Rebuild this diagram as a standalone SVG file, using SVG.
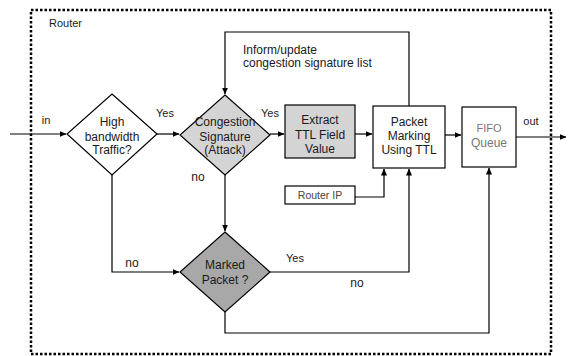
<svg xmlns="http://www.w3.org/2000/svg" width="576" height="356" viewBox="0 0 576 356">
<style>
text{font-family:"Liberation Sans",Arial,sans-serif;font-size:12px;fill:#1a1a1a}
.c{text-anchor:middle}
.s{font-size:11px}
.ln{fill:none;stroke:#000;stroke-width:1.2}
.bx{stroke:#000;stroke-width:1.2}
</style>
<defs>
<marker id="ah" markerWidth="7" markerHeight="6" refX="6.5" refY="3" orient="auto" markerUnits="userSpaceOnUse">
<path d="M0,0 L7,3 L0,6 Z" fill="#000"/>
</marker>
</defs>
<rect width="576" height="356" fill="#fff"/>
<g id="router-frame">
<rect x="31" y="10" width="520" height="344" fill="none" stroke="#000" stroke-width="2.5" stroke-dasharray="2.5 2"/>
<text x="49" y="27" class="s">Router</text>
</g>
<g id="connectors">
<path class="ln" d="M10,134 H66" marker-end="url(#ah)"/>
<path class="ln" d="M157,134 H179" marker-end="url(#ah)"/>
<path class="ln" d="M270,134 H284" marker-end="url(#ah)"/>
<path class="ln" d="M355,134 H372" marker-end="url(#ah)"/>
<path class="ln" d="M445,135 H461" marker-end="url(#ah)"/>
<path class="ln" d="M516,137 H566" marker-end="url(#ah)"/>
<path class="ln" d="M409,106 V32 H225 V94" marker-end="url(#ah)"/>
<path class="ln" d="M225,175 V231" marker-end="url(#ah)"/>
<path class="ln" d="M112,175 V272 H179" marker-end="url(#ah)"/>
<path class="ln" d="M355,197 H384 V169" marker-end="url(#ah)"/>
<path class="ln" d="M270,272 H409 V169" marker-end="url(#ah)"/>
<path class="ln" d="M225,312 V333 H489 V168" marker-end="url(#ah)"/>
<text x="46" y="124" class="c s">in</text>
<text x="165" y="117" class="c s">Yes</text>
<text x="270" y="117" class="c s">Yes</text>
<text x="198" y="181" class="c">no</text>
<text x="132" y="267" class="c">no</text>
<text x="295" y="262" class="c s">Yes</text>
<text x="357" y="287" class="c">no</text>
<text x="531" y="125" class="c s">out</text>
<text x="243" y="54">Inform/update</text>
<text x="243" y="67">congestion signature list</text>
</g>
<g id="high-bandwidth">
<polygon class="bx" points="112,94 157,134 112,175 67,134" fill="#fff"/>
<text x="112" y="126" class="c">High</text>
<text x="112" y="141" class="c">bandwidth</text>
<text x="112" y="154" class="c">Traffic?</text>
</g>
<g id="congestion-signature">
<polygon class="bx" points="225,95 270,135 225,175 180,135" fill="#d4d4d4"/>
<text x="225" y="126" class="c">Congestion</text>
<text x="225" y="141" class="c">Signature</text>
<text x="225" y="154" class="c">(Attack)</text>
</g>
<g id="extract-ttl">
<rect class="bx" x="285" y="105" width="70" height="53" fill="#d4d4d4"/>
<text x="320" y="124" class="c">Extract</text>
<text x="320" y="139" class="c">TTL Field</text>
<text x="320" y="153" class="c">Value</text>
</g>
<g id="packet-marking">
<rect class="bx" x="373" y="106" width="72" height="62" fill="#fff"/>
<text x="409" y="126" class="c">Packet</text>
<text x="409" y="140" class="c">Marking</text>
<text x="409" y="154" class="c">Using TTL</text>
</g>
<g id="fifo-queue">
<rect class="bx" x="462" y="107" width="54" height="60" fill="#fff"/>
<text x="489" y="132" class="c s" style="fill:#777">FIFO</text>
<text x="489" y="147" class="c" style="fill:#777">Queue</text>
</g>
<g id="router-ip">
<rect class="bx" x="285" y="186" width="70" height="18" fill="#fff"/>
<text x="320" y="199" class="c" style="font-size:10.5px;fill:#444">Router IP</text>
</g>
<g id="marked-packet">
<polygon class="bx" points="225,232 270,272 225,312 180,272" fill="#a8a8a8"/>
<text x="225" y="269" class="c">Marked</text>
<text x="225" y="284" class="c">Packet ?</text>
</g>
</svg>
